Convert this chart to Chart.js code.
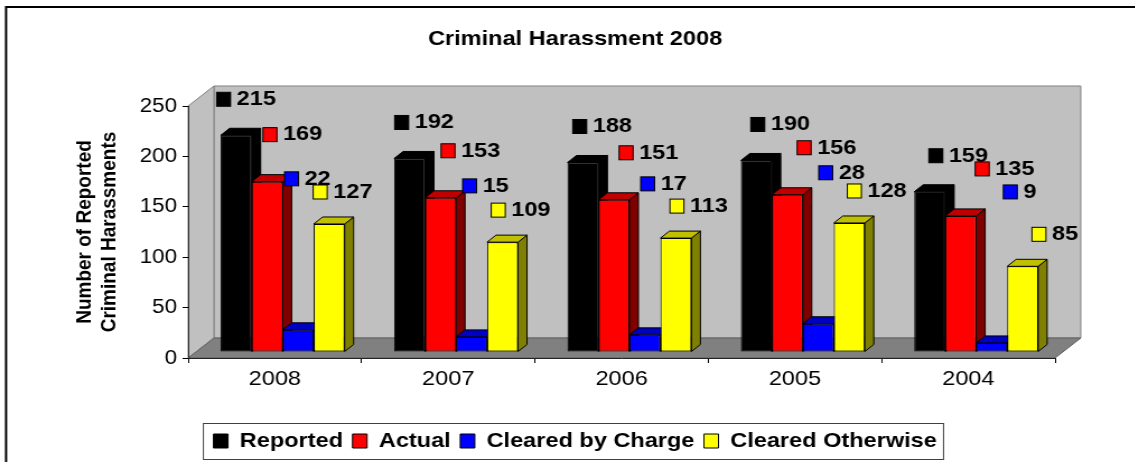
<!DOCTYPE html>
<html>
<head>
<meta charset="utf-8">
<script src="https://cdn.jsdelivr.net/npm/chart.js@4.4.1/dist/chart.umd.min.js"></script>
<style>
  html, body { margin: 0; padding: 0; background: #fff; overflow: hidden; }
  /* the original renders its Arial text noticeably wide, so the whole canvas is stretched a bit */
  #wrap { width: 1013px; height: 462px; transform: scaleX(1.12); transform-origin: 0 0; }
</style>
</head>
<body>
<div id="wrap"><canvas id="chart" width="1013" height="462"></canvas></div>
<script>
const years = ["2008", "2007", "2006", "2005", "2004"];
const reported = [215, 192, 188, 190, 159];
const actual = [169, 153, 151, 156, 135];
const clearedByCharge = [22, 15, 17, 28, 9];
const clearedOtherwise = [127, 109, 113, 128, 85];
const yMin = 0, yMax = 250, yStep = 50;

const FONT = "'Liberation Sans', Arial, sans-serif";
const WALL = { dx: 23, dy: -20 };   // depth of floor and walls
const PLANE = { dx: 7, dy: -6 };    // where the bars stand inside that depth
const BAR = { dx: 8, dy: -7 };      // depth of a single bar

function poly(ctx, pts, fill, stroke) {
  ctx.beginPath();
  ctx.moveTo(pts[0][0], pts[0][1]);
  for (let i = 1; i < pts.length; i++) ctx.lineTo(pts[i][0], pts[i][1]);
  ctx.closePath();
  ctx.fillStyle = fill;
  ctx.fill();
  ctx.strokeStyle = stroke;
  ctx.lineWidth = 1;
  ctx.stroke();
}

const threeD = {
  id: "threeD",
  beforeDraw(chart) {
    const ctx = chart.ctx;
    const a = chart.chartArea;
    ctx.save();
    ctx.fillStyle = "#fff";
    ctx.fillRect(0, 0, chart.width, chart.height);
    ctx.strokeStyle = "#000";
    ctx.lineWidth = 2;
    ctx.strokeRect(5.4, 7, chart.width + 20, chart.height + 20);

    const L = a.left, R = a.right, T = a.top, B = a.bottom;
    poly(ctx, [[L + WALL.dx, T + WALL.dy], [R + WALL.dx, T + WALL.dy], [R + WALL.dx, B + WALL.dy], [L + WALL.dx, B + WALL.dy]], "#c0c0c0", "#808080");
    poly(ctx, [[L, B], [L, T], [L + WALL.dx, T + WALL.dy], [L + WALL.dx, B + WALL.dy]], "#c0c0c0", "#808080");
    poly(ctx, [[L, B], [R, B], [R + WALL.dx, B + WALL.dy], [L + WALL.dx, B + WALL.dy]], "#808080", "#606060");
    ctx.restore();
  },
  beforeDatasetsDraw(chart) {
    const ctx = chart.ctx;
    ctx.save();
    ctx.translate(PLANE.dx, PLANE.dy);
    // tops and sides first, the fronts drawn by Chart.js then cover what is hidden
    chart.data.datasets.forEach((ds, i) => {
      chart.getDatasetMeta(i).data.forEach(el => {
        const { x, y, base, width } = el.getProps(["x", "y", "base", "width"], true);
        const l = x - width / 2, r = x + width / 2;
        poly(ctx, [[r, y], [r + BAR.dx, y + BAR.dy], [r + BAR.dx, base + BAR.dy], [r, base]], ds.sideColor, "#000");
        poly(ctx, [[l, y], [l + BAR.dx, y + BAR.dy], [r + BAR.dx, y + BAR.dy], [r, y]], ds.topColor, "#000");
      });
    });
  },
  afterDatasetsDraw(chart) {
    const ctx = chart.ctx;
    ctx.restore();
    ctx.save();
    ctx.font = "bold 21px " + FONT;
    ctx.textBaseline = "middle";
    ctx.textAlign = "left";
    chart.data.datasets.forEach((ds, i) => {
      chart.getDatasetMeta(i).data.forEach((el, j) => {
        const x = el.x + PLANE.dx, top = el.y + PLANE.dy;
        const text = String(ds.data[j]);
        const w = 12.5 + 5.4 + ctx.measureText(text).width;
        const cx = x + 6.25 + 0.027 * x + ds.labelShift;
        const cy = top - ds.labelLift;
        const left = cx - w / 2;
        ctx.fillStyle = ds.backgroundColor;
        ctx.fillRect(left, cy - 7, 12.5, 14);
        ctx.strokeStyle = "#000";
        ctx.lineWidth = 1;
        ctx.strokeRect(left, cy - 7, 12.5, 14);
        ctx.fillStyle = "#000";
        ctx.fillText(text, left + 17.9, cy);
      });
    });
    ctx.restore();
  },
  afterDraw(chart) {
    const ctx = chart.ctx;
    const hb = chart.legend.legendHitBoxes;
    if (!hb || !hb.length) return;
    const l = Math.min(...hb.map(h => h.left)) - 9;
    const r = Math.max(...hb.map(h => h.left + h.width)) + 6;
    const cy = hb[0].top + hb[0].height / 2;
    ctx.save();
    ctx.strokeStyle = "#404040";
    ctx.lineWidth = 1;
    ctx.strokeRect(l, Math.round(cy - 18.5) + 0.5, r - l, 36);
    ctx.restore();
  }
};

const titleFont = { family: FONT, size: 21, weight: "bold" };

new Chart(document.getElementById("chart"), {
  type: "bar",
  data: {
    labels: years,
    datasets: [
      { label: "Reported", data: reported, backgroundColor: "#000000", topColor: "#000000", sideColor: "#000000", labelShift: -3, labelLift: 36 },
      { label: "Actual", data: actual, backgroundColor: "#ff0000", topColor: "#c00000", sideColor: "#800000", labelShift: 10, labelLift: 47 },
      { label: "Cleared by Charge", data: clearedByCharge, backgroundColor: "#0000ff", topColor: "#0000c0", sideColor: "#000080", labelShift: -5, labelLift: 151 },
      { label: "Cleared Otherwise", data: clearedOtherwise, backgroundColor: "#ffff00", topColor: "#c0c000", sideColor: "#808000", labelShift: -2, labelLift: 32 }
    ].map(d => Object.assign(d, {
      borderColor: "#000",
      borderWidth: 1,
      borderSkipped: false,
      categoryPercentage: 0.715,
      barPercentage: 1
    }))
  },
  options: {
    responsive: false,
    animation: false,
    devicePixelRatio: 1,
    layout: { padding: { left: 14, right: 0, top: 0, bottom: 0.5 } },
    plugins: {
      title: {
        display: true,
        text: "Criminal Harassment 2008",
        color: "#000",
        font: titleFont,
        padding: { top: 26.4, bottom: 54.4 }
      },
      legend: {
        position: "bottom",
        labels: {
          color: "#000",
          font: titleFont,
          boxWidth: 13,
          boxHeight: 14,
          padding: 8.5
        }
      },
      tooltip: { enabled: false }
    },
    scales: {
      x: {
        grid: { drawOnChartArea: false, tickLength: 5, tickColor: "#000" },
        border: { color: "#222" },
        ticks: { color: "#000", font: { family: FONT, size: 21 }, padding: 4, maxRotation: 0 },
        afterFit: s => { s.height = 64; }
      },
      y: {
        min: yMin,
        max: yMax,
        grid: { drawOnChartArea: false, tickLength: 5, tickColor: "#000" },
        border: { color: "#222" },
        ticks: { stepSize: yStep, color: "#000", font: { family: FONT, size: 20 }, padding: 5 },
        title: {
          display: true,
          text: ["Number of Reported", "Criminal Harassments"],
          color: "#000",
          font: { family: FONT, size: 19, weight: "bold", lineHeight: 1.174 },
          padding: { top: 50.75, bottom: 0 }
        },
        afterFit: s => { s.width = 154; }
      },
      yR: {
        position: "right",
        grid: { display: false },
        border: { display: false },
        ticks: { display: false },
        afterFit: s => { s.width = 71; }
      }
    }
  },
  plugins: [threeD]
});
</script>
</body>
</html>
